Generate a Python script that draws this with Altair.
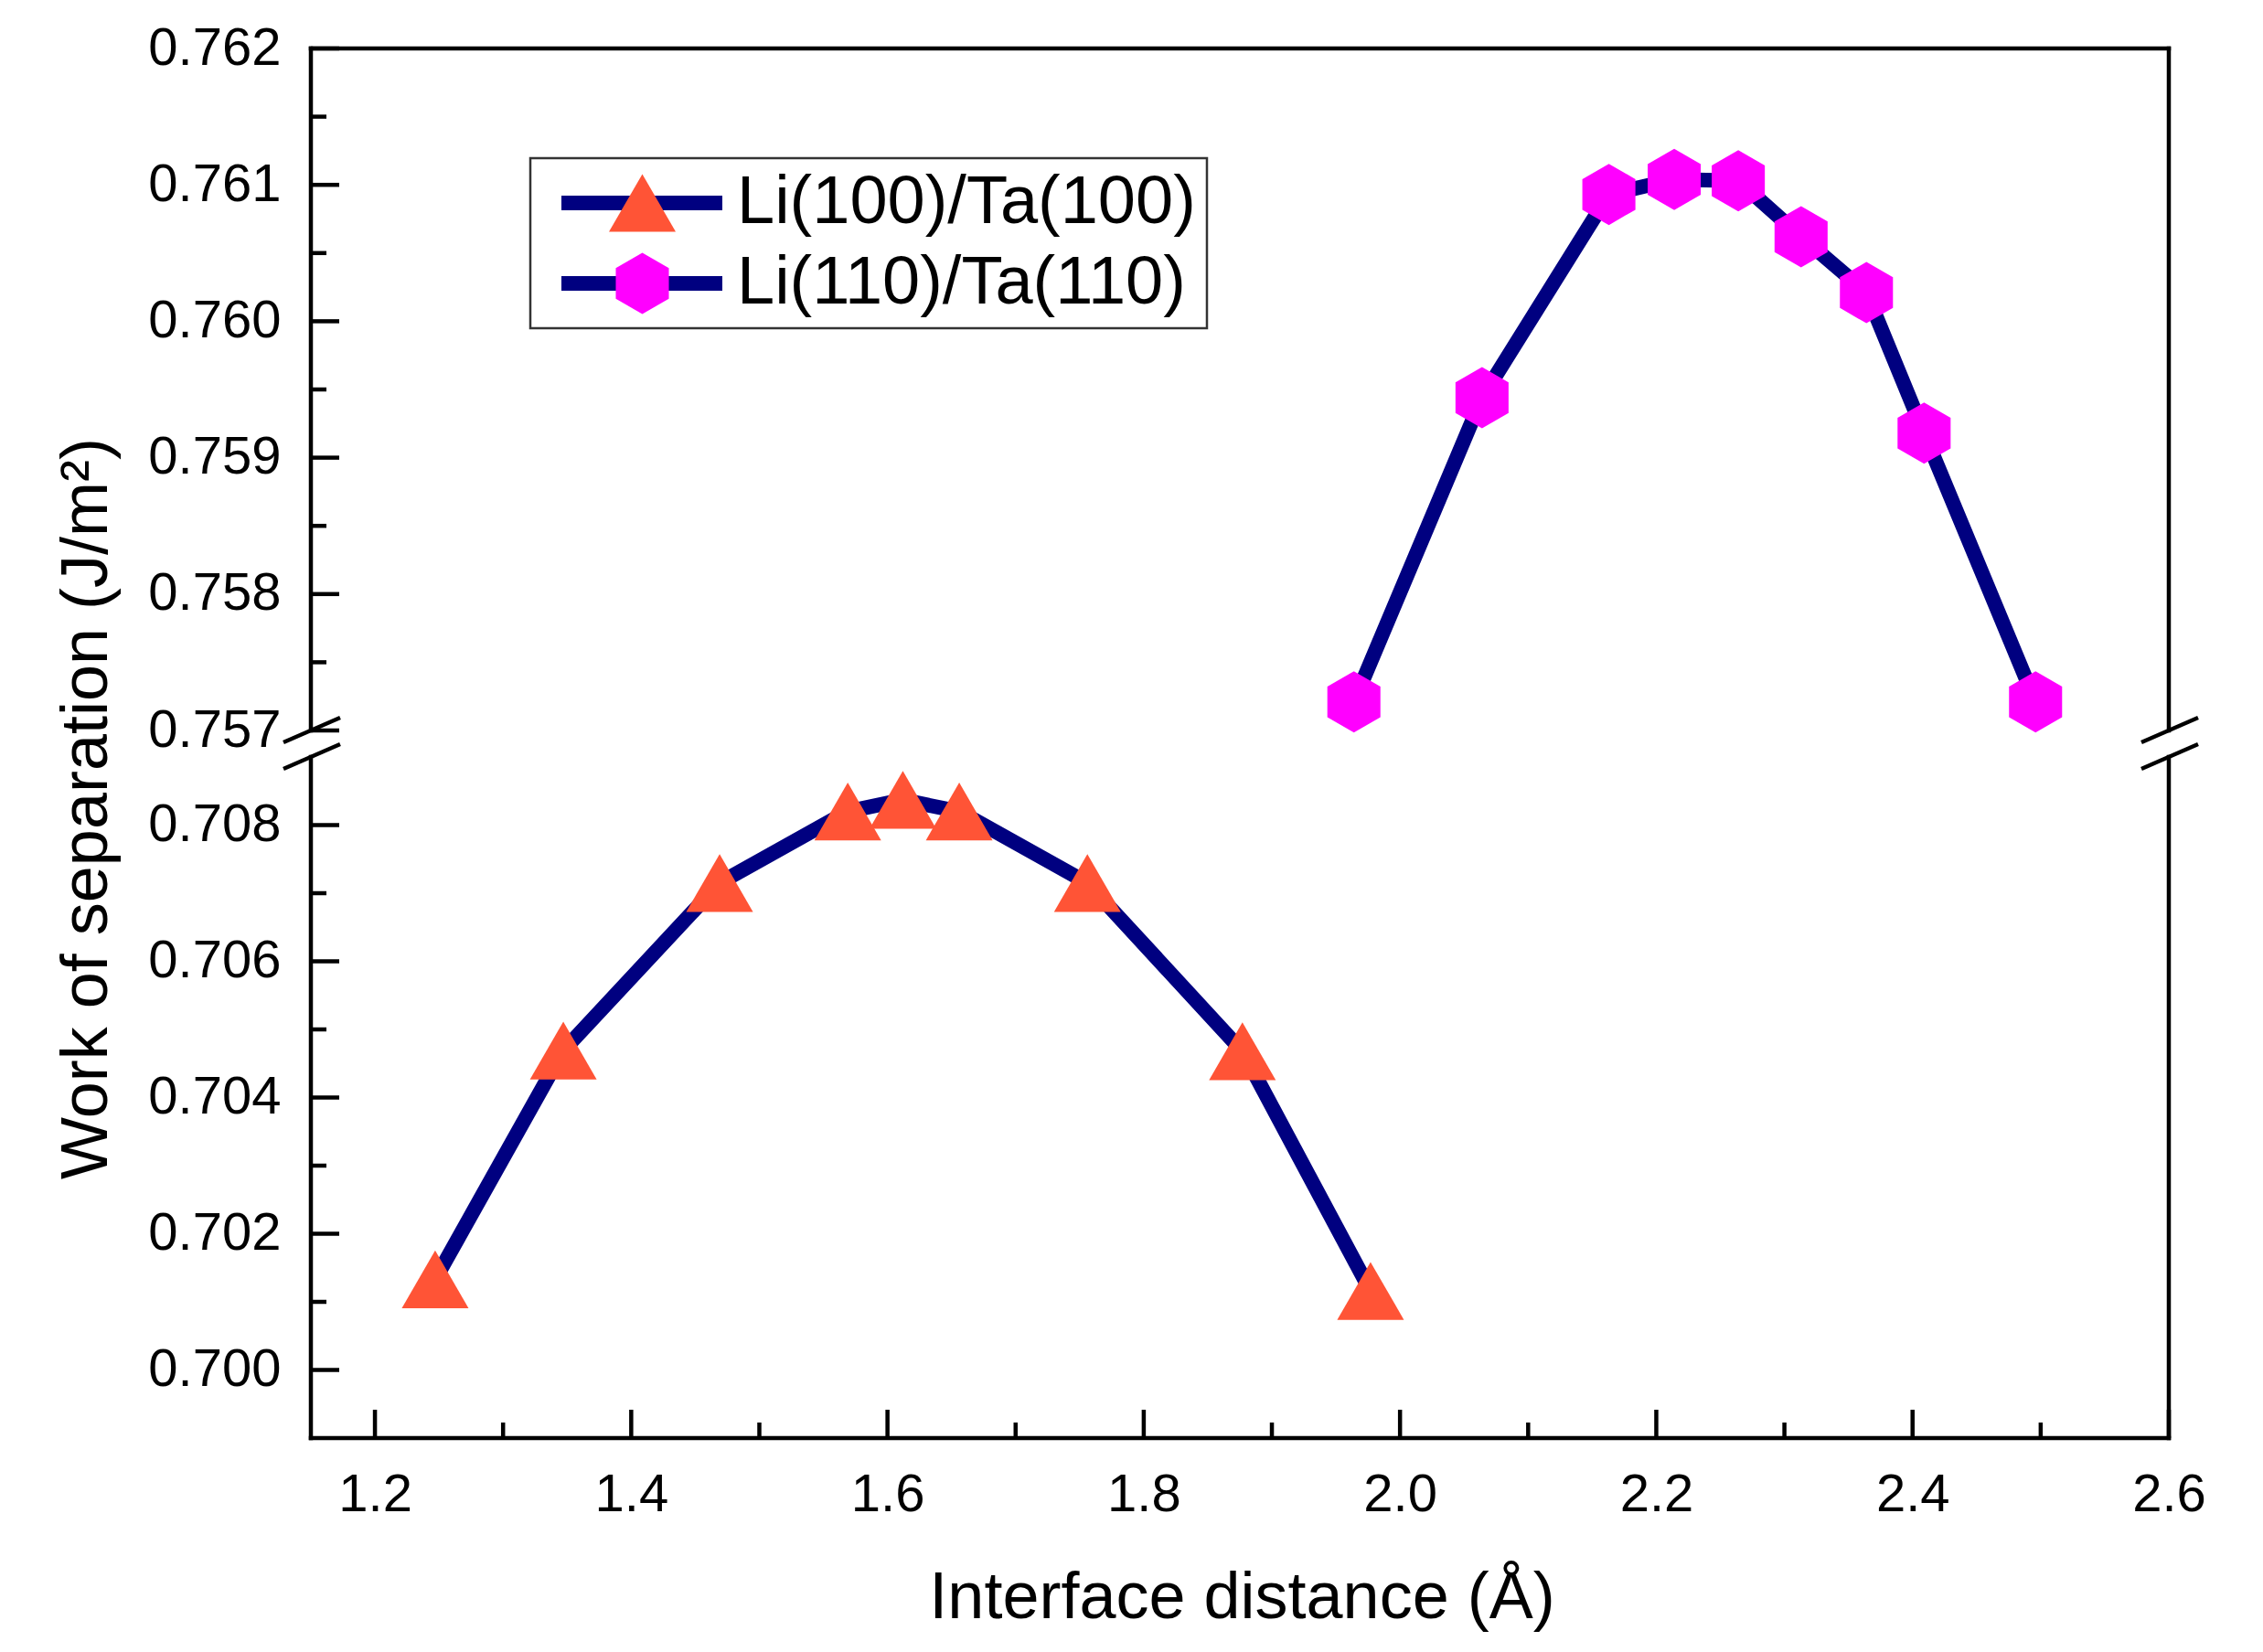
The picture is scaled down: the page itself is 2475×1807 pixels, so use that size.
import altair as alt
import pandas as pd

# ---- data ----
SERIES = ["Li(100)/Ta(100)", "Li(110)/Ta(110)"]

DIST_100 = [1.247, 1.347, 1.469, 1.569, 1.612, 1.656, 1.756, 1.877, 1.977]
WSEP_100 = [0.70133, 0.70469, 0.70715, 0.70820, 0.70837, 0.70820, 0.70715, 0.70468, 0.70116]

DIST_110 = [1.964, 2.064, 2.163, 2.214, 2.264, 2.313, 2.364, 2.409, 2.496]
WSEP_110 = [0.75721, 0.75944, 0.76093, 0.76104, 0.76103, 0.76062, 0.76021, 0.75918, 0.75721]

X_MAJOR = [1.2, 1.4, 1.6, 1.8, 2.0, 2.2, 2.4, 2.6]
X_MINOR = [1.3, 1.5, 1.7, 1.9, 2.1, 2.3, 2.5]
Y_MAJOR = [0.700, 0.702, 0.704, 0.706, 0.708, 0.757, 0.758, 0.759, 0.760, 0.761, 0.762]
Y_MINOR = [0.701, 0.703, 0.705, 0.707, 0.7575, 0.7585, 0.7595, 0.7605, 0.7615]

# axis extent and the broken y range
X0, X1 = 1.15, 2.6
Y_BOT, BRK_LO, BRK_HI, Y_TOP = 0.699, 0.709, 0.757, 0.762

W, H = 2032, 1520
NAVY = "#000080"
TRI = "M0,-0.866L1,0.866L-1,0.866Z"
HEX = "M0,-0.918L0.795,-0.459L0.795,0.459L0,0.918L-0.795,0.459L-0.795,-0.459Z"
FONT = "Liberation Sans"

df = pd.concat([
    pd.DataFrame({"dist": DIST_100, "wsep": WSEP_100, "series": SERIES[0]}),
    pd.DataFrame({"dist": DIST_110, "wsep": WSEP_110, "series": SERIES[1]}),
])
df["curve"] = df["series"]

xscale = alt.Scale(domain=[X0, X1], nice=False, zero=False)
yscale = alt.Scale(domain=[Y_BOT, BRK_LO, BRK_HI, Y_TOP], range=[H, 775, 746, 0],
                   nice=False, zero=False)

xaxis = alt.Axis(title="Interface distance (Å)", values=X_MAJOR, format=".1f",
                 ticks=False, tickSize=0, domain=False, grid=False,
                 labelFlush=False, labelPadding=33, labelFontSize=58,
                 titleFontSize=72, titleX=1018, titleY=174,
                 titleBaseline="middle", titleAlign="center")
yaxis = alt.Axis(title="Work of separation (J/m²)", values=Y_MAJOR, format=".3f",
                 ticks=False, tickSize=0, domain=False, grid=False,
                 labelFlush=False, labelOverlap=False, labelPadding=33,
                 labelFontSize=58, titleFontSize=72, titleAngle=-90,
                 titleX=-246, titleY=831, titleBaseline="middle", titleAlign="center")

# two stacked legends: navy line strokes with labels, markers drawn on top
line_legend = alt.Legend(
    orient="none", legendX=240, legendY=120, title=None,
    symbolType="stroke", symbolSize=30976, symbolStrokeWidth=16,
    clipHeight=74, padding=12, rowPadding=14,
    labelFontSize=74, labelFont=FONT, labelColor="black", labelLimit=1000,
    labelOffset=8, symbolOffset=14,
    strokeColor="#333333", fillColor="white",
)
marker_legend = alt.Legend(
    orient="none", legendX=240, legendY=120, title=None,
    symbolSize=5329, symbolStrokeWidth=0,
    clipHeight=74, padding=12, rowPadding=14,
    labelFontSize=74, labelFont=FONT, labelExpr="''", labelLimit=1000,
    symbolOffset=73.5,
)

base = alt.Chart(df)

lines = base.mark_line(strokeWidth=16, strokeJoin="round", strokeCap="round").encode(
    x=alt.X("dist:Q", scale=xscale, axis=xaxis),
    y=alt.Y("wsep:Q", scale=yscale, axis=yaxis),
    color=alt.Color("curve:N", scale=alt.Scale(range=[NAVY, NAVY]), legend=line_legend),
    detail="series:N",
)

points = base.mark_point(filled=True, opacity=1, strokeWidth=0).encode(
    x=alt.X("dist:Q", scale=xscale, axis=xaxis),
    y=alt.Y("wsep:Q", scale=yscale, axis=yaxis),
    shape=alt.Shape("series:N", scale=alt.Scale(domain=SERIES, range=[TRI, HEX]),
                    legend=marker_legend),
    fill=alt.Fill("series:N", scale=alt.Scale(domain=SERIES, range=["#FF5436", "#FF00FF"]),
                  legend=marker_legend),
    size=alt.value(5329),
)

# frame with a gap at the break
frame_df = pd.DataFrame([
    dict(x=X0, x2=X0, y=BRK_HI, y2=Y_TOP),
    dict(x=X0, x2=X0, y=Y_BOT, y2=BRK_LO),
    dict(x=X1, x2=X1, y=BRK_HI, y2=Y_TOP),
    dict(x=X1, x2=X1, y=Y_BOT, y2=BRK_LO),
    dict(x=X0, x2=X1, y=Y_TOP, y2=Y_TOP),
    dict(x=X0, x2=X1, y=Y_BOT, y2=Y_BOT),
])
frame = alt.Chart(frame_df).mark_rule(color="black", strokeWidth=4.5, strokeCap="square").encode(
    x=alt.X("x:Q", scale=xscale, axis=xaxis), x2="x2:Q",
    y=alt.Y("y:Q", scale=yscale, axis=yaxis), y2="y2:Q",
)

slash_df = pd.DataFrame([dict(x=xx, y=yy) for xx in (X0, X1) for yy in (BRK_HI, BRK_LO)])
slashes = alt.Chart(slash_df).mark_rule(
    color="black", strokeWidth=4.5, xOffset=-30, x2Offset=32, yOffset=13, y2Offset=-14
).encode(
    x=alt.X("x:Q", scale=xscale, axis=xaxis), x2="x:Q",
    y=alt.Y("y:Q", scale=yscale, axis=yaxis), y2="y:Q",
)

# inward ticks
ytick_major = alt.Chart(pd.DataFrame({"v": Y_MAJOR})).mark_rule(color="black", strokeWidth=4.5).encode(
    y=alt.Y("v:Q", scale=yscale, axis=yaxis), x=alt.value(0), x2=alt.value(31))
ytick_minor = alt.Chart(pd.DataFrame({"v": Y_MINOR})).mark_rule(color="black", strokeWidth=4.5).encode(
    y=alt.Y("v:Q", scale=yscale, axis=yaxis), x=alt.value(0), x2=alt.value(17))
xtick_major = alt.Chart(pd.DataFrame({"v": X_MAJOR})).mark_rule(color="black", strokeWidth=4.5).encode(
    x=alt.X("v:Q", scale=xscale, axis=xaxis), y=alt.value(H), y2=alt.value(H - 31))
xtick_minor = alt.Chart(pd.DataFrame({"v": X_MINOR})).mark_rule(color="black", strokeWidth=4.5).encode(
    x=alt.X("v:Q", scale=xscale, axis=xaxis), y=alt.value(H), y2=alt.value(H - 17))

chart = (
    alt.layer(lines, frame, ytick_major, ytick_minor, xtick_major, xtick_minor, points, slashes)
    .properties(width=W, height=H, autosize=alt.AutoSizeParams(type="none"),
                padding={"left": 332, "top": 45, "right": 90, "bottom": 226})
    .configure_view(stroke=None)
    .configure_axis(labelFont=FONT, titleFont=FONT, labelColor="black", titleColor="black",
                    titleFontWeight="normal")
    .configure_legend(strokeWidth=2.5)
)

chart.save("out.html", embed_options={"renderer": "svg", "actions": False})
